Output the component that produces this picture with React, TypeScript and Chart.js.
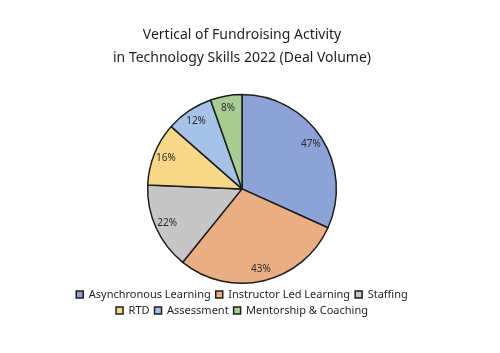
import React, { useEffect, useRef } from "react";
import { Chart, registerables } from "chart.js";

Chart.register(...registerables);

const categories = [
  "Asynchronous Learning",
  "Instructor Led Learning",
  "Staffing",
  "RTD",
  "Assessment",
  "Mentorship & Coaching",
];
const values = [47, 43, 22, 16, 12, 8];
const valueLabels = ["47%", "43%", "22%", "16%", "12%", "8%"];
const colors = ["#8DA2D6", "#EAAE83", "#C6C6C6", "#F6D888", "#A6C2E6", "#A8CD93"];
const titleLines = ["Vertical of Fundroising Activity", "in Technology Skills 2022 (Deal Volume)"];

const FONT = "'Comic Sans MS', 'Noto Sans', Lato, sans-serif";

const labelPlugin = {
  id: "sliceLabels",
  afterDatasetsDraw(chart: any) {
    const meta = chart.getDatasetMeta(0);
    const ctx = chart.ctx;
    ctx.save();
    ctx.fillStyle = "#2a2a2a";
    ctx.font = `10px ${FONT}`;
    ctx.textAlign = "center";
    ctx.textBaseline = "middle";
    meta.data.forEach((arc: any, i: number) => {
      const { x, y, startAngle, endAngle, outerRadius } = arc.getProps(
        ["x", "y", "startAngle", "endAngle", "outerRadius"],
        true
      );
      const mid = (startAngle + endAngle) / 2;
      const r = outerRadius * 0.87;
      ctx.fillText(valueLabels[i], x + Math.cos(mid) * r, y + Math.sin(mid) * r);
    });
    ctx.restore();
  },
};

export default function App() {
  const ref = useRef<HTMLCanvasElement | null>(null);
  useEffect(() => {
    document.body.style.margin = "0";
    const chart = new Chart(ref.current!, {
      type: "pie",
      data: {
        labels: categories,
        datasets: [
          {
            data: values,
            backgroundColor: colors,
            borderColor: "#1e1e1e",
            borderWidth: 1.5,
          },
        ],
      },
      options: {
        animation: false,
        responsive: false,
        layout: { padding: { top: 0, bottom: 27, left: 67, right: 83 } },
        plugins: {
          title: {
            display: true,
            text: titleLines,
            color: "#1e1e1e",
            font: { family: FONT, size: 14, weight: "normal", lineHeight: 1.6 },
            padding: { top: 24, bottom: 25 },
          },
          legend: {
            position: "bottom",
            labels: {
              color: "#1e1e1e",
              font: { family: FONT, size: 11 },
              boxWidth: 7,
              boxHeight: 7,
              padding: 5,
            },
          },
          tooltip: { enabled: false },
        },
      },
      plugins: [labelPlugin],
    });
    return () => chart.destroy();
  }, []);
  return <canvas ref={ref} width={500} height={353} />;
}
